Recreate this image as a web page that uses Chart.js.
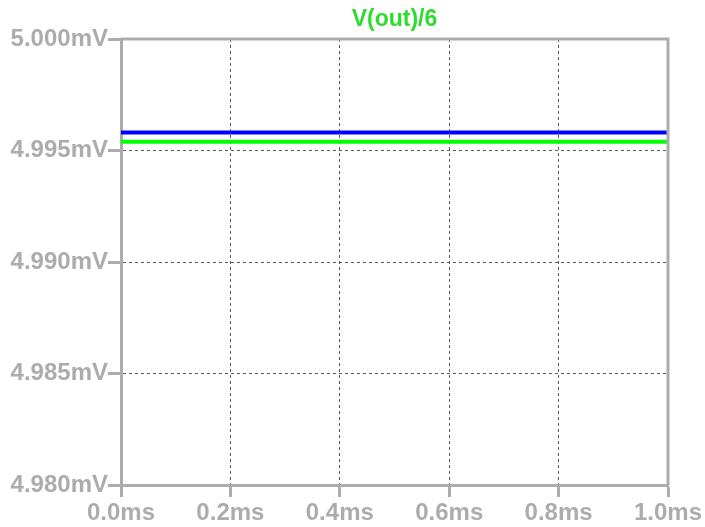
<!DOCTYPE html>
<html>
<head>
<meta charset="utf-8">
<script src="https://cdn.jsdelivr.net/npm/chart.js@4.4.1/dist/chart.umd.min.js"></script>
<style>
  html, body { margin: 0; padding: 0; background: #ffffff; }
  #wrap { width: 705px; height: 527px; }
</style>
</head>
<body>
<div id="wrap"><canvas id="c" width="705" height="527"></canvas></div>
<script>
// Time axis (ms) and the two traces (mV)
const timeMs = [0.0, 1.0];
const voutDiv6 = [4.99539, 4.99539];
const refTrace = [4.99581, 4.99581];

// Axis ticks and their labels
const xTickValues = [0.0, 0.2, 0.4, 0.6, 0.8, 1.0];
const xTickLabels = ['0.0ms', '0.2ms', '0.4ms', '0.6ms', '0.8ms', '1.0ms'];
const yTickValues = [4.980, 4.985, 4.990, 4.995, 5.000];
const yTickLabels = ['4.980mV', '4.985mV', '4.990mV', '4.995mV', '5.000mV'];

const traceTitle = 'V(out)/6';

const AXIS_GRAY = '#acacac';
const GRID_GRAY = '#5a5a5a';
const tickFont = { family: '"Liberation Sans", Arial, sans-serif', size: 24, weight: 'bold' };

// Dashed grid only inside the plot; the edges are drawn as a solid frame
function innerGrid(ctx) {
  const n = ctx.scale.ticks.length;
  return (ctx.index === 0 || ctx.index === n - 1) ? 'rgba(0,0,0,0)' : GRID_GRAY;
}

const framePlugin = {
  id: 'frame',
  afterDraw(chart) {
    const { ctx, chartArea: a } = chart;
    ctx.save();
    ctx.strokeStyle = AXIS_GRAY;
    ctx.lineWidth = 3;
    ctx.beginPath();
    ctx.moveTo(a.left, a.top);
    ctx.lineTo(a.right, a.top);
    ctx.lineTo(a.right, a.bottom);
    ctx.stroke();
    // trace title above the plot
    ctx.fillStyle = '#2edc2e';
    ctx.font = 'bold 23px "Liberation Sans", Arial, sans-serif';
    ctx.textAlign = 'center';
    ctx.textBaseline = 'middle';
    ctx.fillText(traceTitle, (a.left + a.right) / 2, 20);
    ctx.restore();
  }
};

new Chart(document.getElementById('c'), {
  type: 'line',
  data: {
    datasets: [
      {
        label: traceTitle,
        data: timeMs.map((t, i) => ({ x: t, y: voutDiv6[i] })),
        borderColor: '#00ff00',
        borderWidth: 4,
        pointRadius: 0,
        tension: 0
      },
      {
        label: 'ref',
        data: timeMs.map((t, i) => ({ x: t, y: refTrace[i] })),
        borderColor: '#0000ff',
        borderWidth: 4,
        pointRadius: 0,
        tension: 0
      }
    ]
  },
  options: {
    responsive: false,
    animation: false,
    layout: { padding: { top: 39, right: 37, left: 0, bottom: 0 } },
    plugins: { legend: { display: false }, tooltip: { enabled: false }, title: { display: false } },
    scales: {
      x: {
        type: 'linear',
        min: 0,
        max: 1,
        afterBuildTicks: (s) => { s.ticks = xTickValues.map(v => ({ value: v })); },
        afterFit: (s) => { s.height = 42; },
        ticks: {
          color: AXIS_GRAY,
          font: tickFont,
          padding: 2,
          maxRotation: 0,
          autoSkip: false,
          callback: (v, i) => xTickLabels[i]
        },
        grid: {
          color: innerGrid,
          lineWidth: 1,
          tickColor: AXIS_GRAY,
          tickWidth: 3,
          tickLength: 12
        },
        border: { display: true, color: AXIS_GRAY, width: 3, dash: [3, 3] }
      },
      y: {
        type: 'linear',
        min: 4.980,
        max: 5.000,
        afterBuildTicks: (s) => { s.ticks = yTickValues.map(v => ({ value: v })); },
        afterFit: (s) => { s.width = 121; },
        ticks: {
          color: AXIS_GRAY,
          font: tickFont,
          padding: 0,
          autoSkip: false,
          callback: (v, i) => yTickLabels[i]
        },
        grid: {
          color: innerGrid,
          lineWidth: 1,
          tickColor: AXIS_GRAY,
          tickWidth: 3,
          tickLength: 13
        },
        border: { display: true, color: AXIS_GRAY, width: 3, dash: [3, 3] }
      }
    }
  },
  plugins: [framePlugin]
});
</script>
</body>
</html>
